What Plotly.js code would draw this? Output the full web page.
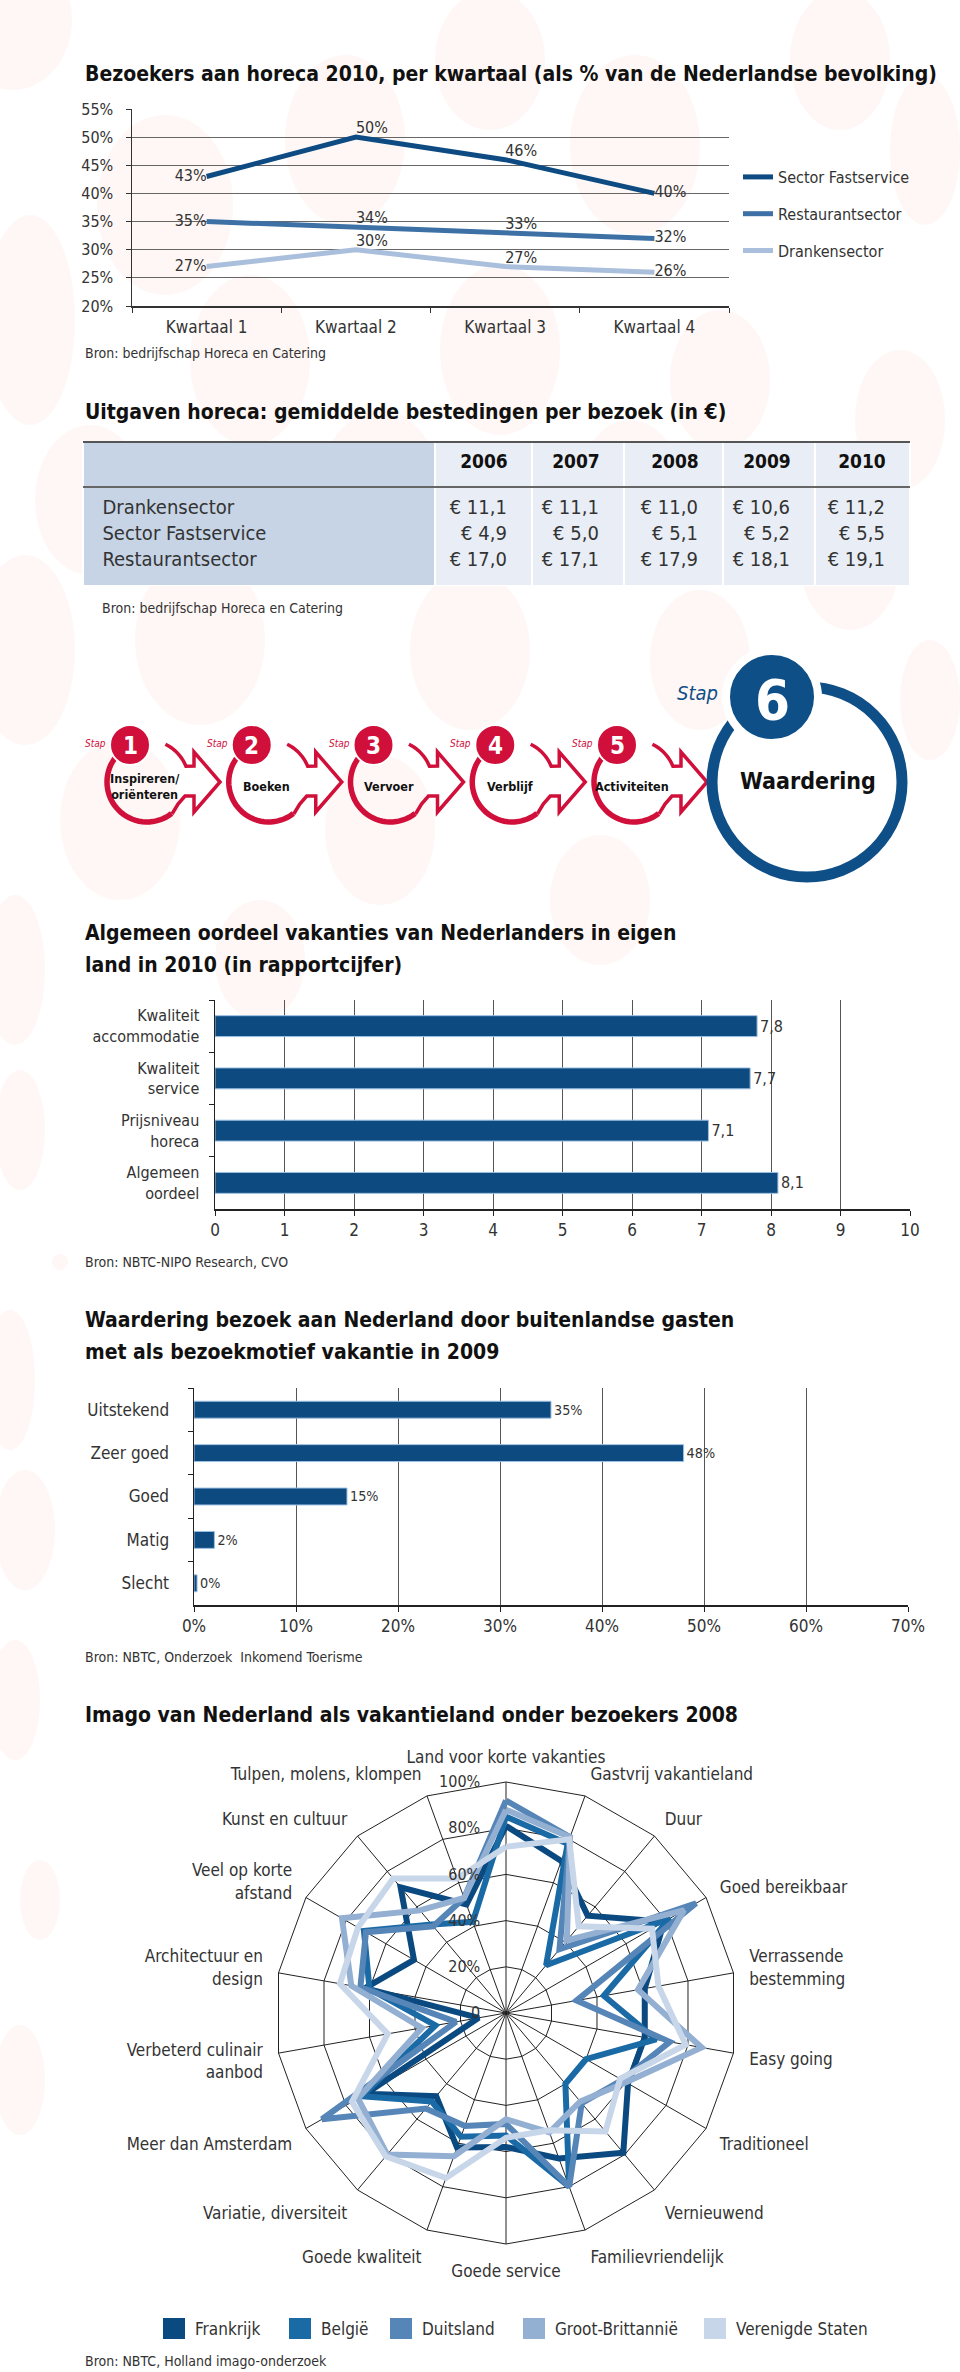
<!DOCTYPE html>
<html><head><meta charset="utf-8">
<script src="https://cdn.plot.ly/plotly-3.0.1.min.js"></script>
<style>html,body{margin:0;padding:0;background:#fff}#chart{width:960px;height:2372px}#chart text{font-stretch:condensed}</style>
</head><body><div id="chart"></div>
<script>
// ---------- DATA ----------
const quarters = ['Kwartaal 1', 'Kwartaal 2', 'Kwartaal 3', 'Kwartaal 4'];
const fastservice = [43, 50, 46, 40];
const restaurant = [35, 34, 33, 32];
const dranken = [27, 30, 27, 26];
const lineNames = ['Sector Fastservice', 'Restaurantsector', 'Drankensector'];

const years = ['2006', '2007', '2008', '2009', '2010'];
const tableRows = ['Drankensector', 'Sector Fastservice', 'Restaurantsector'];
const spendDranken = [11.1, 11.1, 11.0, 10.6, 11.2];
const spendFast = [4.9, 5.0, 5.1, 5.2, 5.5];
const spendRest = [17.0, 17.1, 17.9, 18.1, 19.1];

const steps = ['Inspireren/<br>oriënteren', 'Boeken', 'Vervoer', 'Verblijf', 'Activiteiten'];
const finalStep = 'Waardering';

const oordeelCats = ['Kwaliteit<br>accommodatie', 'Kwaliteit<br>service', 'Prijsniveau<br>horeca', 'Algemeen<br>oordeel'];
const oordeelVals = [7.8, 7.7, 7.1, 8.1];

const waarderingCats = ['Uitstekend', 'Zeer goed', 'Goed', 'Matig', 'Slecht'];
const waarderingVals = [35, 48, 15, 2, 0.3];

const imagoCats = ['Land voor korte vakanties', 'Gastvrij vakantieland', 'Duur', 'Goed bereikbaar',
  'Verrassende<br>bestemming', 'Easy going', 'Traditioneel', 'Vernieuwend', 'Familievriendelijk',
  'Goede service', 'Goede kwaliteit', 'Variatie, diversiteit', 'Meer dan Amsterdam',
  'Verbeterd culinair<br>aanbod', 'Architectuur en<br>design', 'Veel op korte<br>afstand',
  'Kunst en cultuur', 'Tulpen, molens, klompen'];
const frankrijk       = [81, 70, 55, 79, 61, 61, 61, 79, 67, 58, 62, 47, 70, 12, 62, 46, 71, 50];
const belgie          = [85, 78, 27, 82, 43, 66, 40, 40, 80, 53, 57, 50, 72, 31, 60, 71, 50, 42];
const duitsland       = [92, 81, 36, 95, 31, 72, 58, 51, 80, 48, 52, 54, 92, 22, 64, 70, 49, 53];
const grootBrittannie = [88, 81, 41, 89, 58, 86, 60, 50, 55, 46, 66, 80, 74, 37, 68, 82, 58, 53];
const verenigdeStaten = [72, 80, 49, 73, 67, 79, 57, 67, 54, 54, 76, 81, 77, 52, 73, 74, 76, 62];
const countries = ['Frankrijk', 'België', 'Duitsland', 'Groot-Brittannië', 'Verenigde Staten'];

// ---------- HELPERS ----------
const W = 960, H = 2372;
const px = x => x / W, py = y => 1 - y / H;
const FONT = '"DejaVu Sans Condensed","DejaVu Sans",sans-serif';
const TXT = '#333';
const RED = '#d0103a', BLUE = '#0e4f87';
const lineColors = ['#0d4b82', '#3d71a6', '#a9bfdc'];
const radarColors = ['#0b4a80', '#1a6aa6', '#5685b8', '#93afd2', '#c8d6ea'];
const FS = '\u2007';
const eur = v => { const s = v.toFixed(1).replace('.', ','); return (s.length < 4 ? FS : '') + '€\u00a0' + s; };
const NB = '\u00a0\u00a0\u00a0';

const shapes = [];
const annotations = [];
function ann(text, x, y, size, opts) {
  annotations.push(Object.assign({text: text, x: px(x), y: py(y), xref: 'paper', yref: 'paper',
    showarrow: false, xanchor: 'left', yanchor: 'middle',
    font: {family: FONT, size: size, color: '#111'}}, opts || {}));
}
function P(x, y) { return px(x).toFixed(5) + ',' + py(y).toFixed(5); }
function arc(cx, cy, r, a0, a1, n) {
  const pts = [];
  for (let i = 0; i <= n; i++) { const a = (a0 + (a1 - a0) * i / n) * Math.PI / 180; pts.push([cx + r * Math.cos(a), cy + r * Math.sin(a)]); }
  return pts;
}
function pathOf(pts) { return 'M' + pts.map(p => P(p[0], p[1])).join(' L'); }
function circle(cx, cy, r, fill, lc, lw) {
  shapes.push({type: 'circle', xref: 'paper', yref: 'paper', x0: px(cx - r), x1: px(cx + r), y0: py(cy + r), y1: py(cy - r),
    fillcolor: fill, line: {color: lc, width: lw}, layer: 'above'});
}

// ---------- DECORATIVE BACKGROUND BLOBS ----------
const blobs = [[12,20,60,70],[165,205,68,90],[345,140,60,85],[490,60,55,70],[635,145,65,90],[840,60,50,70],[925,150,35,75],
  [30,320,45,105],[250,360,60,85],[500,350,60,85],[720,380,50,70],[900,420,45,70],[90,500,55,75],[380,490,60,80],
  [630,500,55,80],[850,560,50,70],[25,650,50,95],[200,640,65,85],[470,650,60,80],[700,660,50,70],[930,700,30,60],
  [120,820,60,80],[380,830,55,75],[600,900,50,65],[260,960,45,60],[15,970,30,75],[20,1130,25,60],[60,1262,8,8],
  [10,1380,25,70],[25,1530,30,60],[15,1700,25,60],[40,1900,20,40],[20,2080,25,55]];
blobs.forEach(b => shapes.push({type: 'circle', xref: 'paper', yref: 'paper', layer: 'below',
  x0: px(b[0] - b[2]), x1: px(b[0] + b[2]), y0: py(b[1] + b[3]), y1: py(b[1] - b[3]),
  fillcolor: 'rgba(245,200,185,0.15)', line: {width: 0}}));

// ---------- TRACES ----------
const traces = [];
const posLine = ['middle left', 'top right', 'top right', 'middle right'];
[fastservice, restaurant, dranken].forEach((vals, i) => {
  traces.push({type: 'scatter', mode: 'lines+text', x: quarters, y: vals, name: lineNames[i],
    legendgroup: 'g' + i, xaxis: 'x', yaxis: 'y',
    line: {color: lineColors[i], width: 5}, text: vals.map(v => v + '%'), textposition: posLine,
    textfont: {family: FONT, size: 16, color: TXT}, cliponaxis: false, hoverinfo: 'skip'});
});

// table
const headVals = [''].concat(years.map(y => '<b>' + y + '</b>' + NB));
const cellVals = [tableRows.map(r => '\u00a0\u00a0' + r).join('<br>')].concat(
  years.map((y, j) => [spendDranken[j], spendFast[j], spendRest[j]].map(v => eur(v) + NB).join('<br>')));
traces.push({type: 'table', domain: {x: [px(83), px(910)], y: [py(586), py(442)]},
  columnwidth: [352, 97, 92, 99, 92, 95],
  header: {values: headVals, height: 45, align: ['left', 'right', 'right', 'right', 'right', 'right'],
    fill: {color: ['#c7d4e6', '#e9eef6', '#e9eef6', '#e9eef6', '#e9eef6', '#e9eef6']},
    line: {color: '#fff', width: 2}, font: {family: FONT, size: 19, color: '#111'}},
  cells: {values: cellVals, height: 99, align: ['left', 'right', 'right', 'right', 'right', 'right'],
    fill: {color: ['#c7d4e6', '#e9eef6', '#e9eef6', '#e9eef6', '#e9eef6', '#e9eef6']},
    line: {color: '#fff', width: 2}, font: {family: FONT, size: 20, color: '#333'}}});

// bar 1
traces.push({type: 'bar', orientation: 'h', x: oordeelVals, y: oordeelCats, xaxis: 'x2', yaxis: 'y2',
  width: 0.4, marker: {color: '#0d4a80', line: {color: '#9cc0e2', width: 1}},
  text: oordeelVals.map(v => v.toFixed(1).replace('.', ',')), textposition: 'outside',
  textfont: {family: FONT, size: 16, color: TXT}, cliponaxis: false, showlegend: false, hoverinfo: 'skip'});
// bar 2
traces.push({type: 'bar', orientation: 'h', x: waarderingVals, y: waarderingCats, xaxis: 'x3', yaxis: 'y3',
  width: 0.39, marker: {color: '#0d4a80', line: {color: '#9cc0e2', width: 1}},
  text: waarderingVals.map(v => Math.round(v) + '%'), textposition: 'outside',
  textfont: {family: FONT, size: 16, color: TXT}, cliponaxis: false, showlegend: false, hoverinfo: 'skip'});

// radar
[frankrijk, belgie, duitsland, grootBrittannie, verenigdeStaten].forEach((vals, i) => {
  traces.push({type: 'scatterpolar', mode: 'lines', r: vals.concat([vals[0]]), theta: imagoCats.concat([imagoCats[0]]),
    name: countries[i], line: {color: radarColors[i], width: 6}, showlegend: false, hoverinfo: 'skip'});
});
// radar legend (custom squares)
const legX = [163, 289, 390, 523, 704];
countries.forEach((c, i) => {
  shapes.push({type: 'rect', xref: 'paper', yref: 'paper', x0: px(legX[i]), x1: px(legX[i] + 22), y0: py(2339), y1: py(2318),
    fillcolor: radarColors[i], line: {width: 0}, layer: 'above'});
  ann(c, legX[i] + 30, 2329, 17, {font: {family: FONT, size: 17, color: TXT}});
});

// ---------- PROCESS DIAGRAM ----------
steps.forEach((s, i) => {
  const bx = 130 + i * 121.75, cx = bx + 17, cy = 782;
  shapes.push({type: 'path', xref: 'paper', yref: 'paper', layer: 'above', path: pathOf(arc(cx, cy, 40, 52, 250, 40)),
    line: {color: RED, width: 5.5}});
  const pts = arc(cx, cy, 42, -64, -22, 12).concat([[cx + 47, cy - 16], [cx + 47, cy - 30], [cx + 73, cy],
    [cx + 47, cy + 30], [cx + 47, cy + 14], [cx + 38, cy + 14], [cx + 31, cy + 22], [cx + 25, cy + 32]]);
  shapes.push({type: 'path', xref: 'paper', yref: 'paper', layer: 'above', path: pathOf(pts),
    line: {color: RED, width: 3.5}});
  circle(bx, 745, 20, RED, '#fff', 2);
  ann('<i>Stap</i>', bx - 22, 743, 10, {xanchor: 'right', font: {family: FONT, size: 10, color: RED}});
  ann('<b>' + (i + 1) + '</b>', bx, 746, 24, {xanchor: 'center', font: {family: FONT, size: 24, color: '#fff'}});
  ann('<b>' + s + '</b>', cx - 2, 786, 12.5, {xanchor: 'center', font: {family: FONT, size: 12.5, color: '#111'}});
});
circle(807, 782, 95, 'rgba(0,0,0,0)', BLUE, 11);
circle(772, 697, 46, BLUE, '#fff', 8);
ann('<b>6</b>', 772, 699, 56, {xanchor: 'center', font: {family: FONT, size: 56, color: '#fff'}});
ann('<i>Stap</i>', 720, 693, 20, {xanchor: 'right', font: {family: FONT, size: 20, color: BLUE}});
ann('<b>' + finalStep + '</b>', 808, 781, 23, {xanchor: 'center', font: {family: FONT, size: 23, color: '#111'}});

// ---------- TITLES & SOURCES ----------
const T = 21;
const SRC = {font: {family: FONT, size: 14, color: TXT}};
ann('<b>Bezoekers aan horeca 2010, per kwartaal (als % van de Nederlandse bevolking)</b>', 83, 74, T);
ann('Bron: bedrijfschap Horeca en Catering', 83, 353, 14, SRC);
ann('<b>Uitgaven horeca: gemiddelde bestedingen per bezoek (in €)</b>', 83, 412, T);
ann('Bron: bedrijfschap Horeca en Catering', 100, 608, 14, SRC);
ann('<b>Algemeen oordeel vakanties van Nederlanders in eigen</b>', 83, 933, T);
ann('<b>land in 2010 (in rapportcijfer)</b>', 83, 965, T);
ann('Bron: NBTC-NIPO Research, CVO', 83, 1262, 14, SRC);
ann('<b>Waardering bezoek aan Nederland door buitenlandse gasten</b>', 83, 1320, T);
ann('<b>met als bezoekmotief vakantie in 2009</b>', 83, 1352, T);
ann('Bron: NBTC, Onderzoek  Inkomend Toerisme', 83, 1657, 14, SRC);
ann('<b>Imago van Nederland als vakantieland onder bezoekers 2008</b>', 83, 1715, T);
ann('Bron: NBTC, Holland imago-onderzoek', 83, 2361, 14, SRC);

// table rules
shapes.push({type: 'line', xref: 'paper', yref: 'paper', x0: px(83), x1: px(910), y0: py(442), y1: py(442), line: {color: '#555', width: 2}, layer: 'above'});
shapes.push({type: 'line', xref: 'paper', yref: 'paper', x0: px(83), x1: px(910), y0: py(487), y1: py(487), line: {color: '#666', width: 2}, layer: 'above'});

// ---------- LAYOUT ----------
const tf = s => ({family: FONT, size: s, color: TXT});
const layout = {
  width: W, height: H, margin: {l: 0, r: 0, t: 0, b: 0}, paper_bgcolor: '#fff', plot_bgcolor: 'rgba(0,0,0,0)',
  font: {family: FONT, color: TXT}, showlegend: true, hovermode: false,
  legend: {x: px(738), y: py(160), xanchor: 'left', yanchor: 'top', font: tf(16), tracegroupgap: 13,
    traceorder: 'grouped', bgcolor: 'rgba(0,0,0,0)'},
  xaxis: {domain: [px(132), px(729)], anchor: 'y', type: 'category', range: [-0.5, 3.5], showline: true,
    linecolor: '#333', linewidth: 1.5, ticks: 'outside', tickson: 'boundaries', ticklen: 5, tickcolor: '#333',
    showgrid: false, tickfont: tf(17), ticklabelstandoff: 5},
  yaxis: {domain: [py(306), py(109)], anchor: 'x', range: [20, 55], dtick: 5, tick0: 20, ticksuffix: '%',
    showline: true, linecolor: '#333', linewidth: 1.5, ticks: 'outside', ticklen: 5, tickcolor: '#333',
    gridcolor: '#666', gridwidth: 1, zeroline: false, tickfont: tf(16), ticklabelstandoff: 9},
  xaxis2: {domain: [px(215), px(910)], anchor: 'y2', range: [0, 10], dtick: 1, showline: true, linecolor: '#222',
    linewidth: 1.5, ticks: 'outside', ticklen: 5, tickcolor: '#222', gridcolor: '#555', gridwidth: 1, zeroline: false,
    tickfont: tf(17)},
  yaxis2: {domain: [py(1209), py(1000)], anchor: 'x2', type: 'category', autorange: 'reversed', showline: true,
    linecolor: '#222', linewidth: 1.5, ticks: 'outside', tickson: 'boundaries', ticklen: 5, tickcolor: '#222',
    tickfont: tf(16), showgrid: false, ticklabelstandoff: 11},
  xaxis3: {domain: [px(194), px(908)], anchor: 'y3', range: [0, 70], dtick: 10, ticksuffix: '%', showline: true,
    linecolor: '#222', linewidth: 1.5, ticks: 'outside', ticklen: 5, tickcolor: '#222', gridcolor: '#555',
    gridwidth: 1, zeroline: false, tickfont: tf(17)},
  yaxis3: {domain: [py(1605), py(1388)], anchor: 'x3', type: 'category', autorange: 'reversed', showline: true,
    linecolor: '#222', linewidth: 1.5, ticks: 'outside', tickson: 'boundaries', ticklen: 5, tickcolor: '#222',
    tickfont: tf(17), showgrid: false, ticklabelstandoff: 20},
  polar: {domain: {x: [px(275), px(737)], y: [py(2244), py(1782)]}, bgcolor: 'rgba(0,0,0,0)', gridshape: 'linear',
    angularaxis: {rotation: 90, direction: 'clockwise', type: 'category', gridcolor: '#222', gridwidth: 1,
      linecolor: '#222', linewidth: 1, ticks: 'outside', ticklen: 12, tickcolor: 'rgba(0,0,0,0)', tickfont: tf(17)},
    radialaxis: {range: [0, 100], tickvals: [0, 20, 40, 60, 80, 100],
      ticktext: ['0', '20%', '40%', '60%', '80%', '100%'].map(t => t + '\u00a0\u00a0\u00a0\u00a0\u00a0'),
      angle: 90, tickangle: 90, showline: false, gridcolor: '#222', gridwidth: 1, ticks: '', side: 'counterclockwise',
      tickfont: tf(16)}},
  shapes: shapes, annotations: annotations
};
Plotly.newPlot('chart', traces, layout, {staticPlot: true, displayModeBar: false});
</script>
</body></html>
